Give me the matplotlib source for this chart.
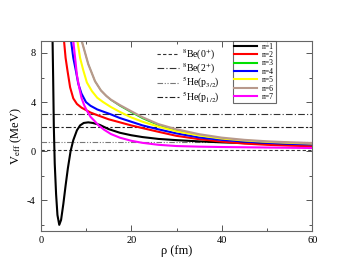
import matplotlib
matplotlib.use('Agg')
import matplotlib.pyplot as plt
from matplotlib.lines import Line2D
from matplotlib.ticker import MultipleLocator

plt.rcParams['font.family'] = ['Liberation Serif', 'DejaVu Serif']
plt.rcParams['mathtext.fontset'] = 'stix'
plt.rcParams['axes.unicode_minus'] = False

# Effective potentials (rho in fm, V in MeV)
rho_n1 = [2.6, 2.75, 2.9, 3.1, 3.4, 3.7, 4.1, 4.5, 5.0, 5.5, 6.0, 6.6, 7.2, 8.0, 8.7,
          9.5, 10.5, 11.5, 13, 15, 17.5, 20, 22.5, 26, 30, 35, 40, 45, 50, 55, 60]
v_n1 = [9.5, 6.0, 2.0, -1.0, -3.5, -5.2, -6.0, -5.6, -4.3, -2.8, -1.4, 0.0, 0.9, 1.7, 2.1,
        2.3, 2.35, 2.3, 2.15, 1.8, 1.5, 1.3, 1.15, 1.0, 0.9, 0.8, 0.72, 0.66, 0.62, 0.59, 0.56]

rho_n2 = [5.0, 5.15, 5.5, 5.9, 6.5, 7.2, 8.0, 9.0, 10, 11, 12.4, 15, 17.5, 20, 22.5,
          26, 30, 35, 40, 45, 50, 55, 60]
v_n2 = [9.5, 9.0, 7.6, 6.6, 5.2, 4.3, 3.85, 3.55, 3.35, 3.15, 2.95, 2.6, 2.35, 2.1, 1.88,
        1.58, 1.25, 0.98, 0.78, 0.62, 0.52, 0.45, 0.4]

rho_n3 = [8.9, 9.05, 10.5, 12, 13.3, 14.5, 15.5, 17.5, 20, 22.5, 26, 30, 35, 40, 45, 50,
          55, 60]
v_n3 = [9.5, 9.0, 7.1, 5.7, 4.95, 4.5, 4.17, 3.68, 3.16, 2.66, 2.11, 1.7, 1.31, 1.05, 0.88,
        0.77, 0.7, 0.64]

rho_n4 = [6.5, 6.7, 7.2, 7.8, 8.3, 9.0, 10, 11, 12.5, 14, 15.5, 17.5, 20, 22.5, 26, 30,
          35, 40, 45, 50, 55, 60]
v_n4 = [9.5, 9.0, 7.6, 6.5, 5.5, 4.7, 4.0, 3.7, 3.4, 3.2, 3.0, 2.7, 2.4, 2.1, 1.78, 1.45,
        1.12, 0.92, 0.78, 0.68, 0.6, 0.55]

rho_n5 = [7.9, 8.1, 8.7, 9.4, 10.2, 11.3, 12.5, 13.8, 15.5, 17.5, 20, 22.5, 26, 30, 35,
          40, 45, 50, 55, 60]
v_n5 = [9.5, 9.0, 7.6, 6.6, 5.6, 4.9, 4.35, 4.0, 3.6, 3.2, 2.75, 2.4, 2.0, 1.62, 1.28,
        1.03, 0.87, 0.76, 0.68, 0.62]

rho_n6 = [8.9, 9.05, 10.5, 12, 13.3, 14.5, 15.5, 17.5, 20, 22.5, 26, 30, 35, 40, 45, 50,
          55, 60]
v_n6 = [9.5, 9.0, 7.1, 5.7, 4.95, 4.5, 4.2, 3.75, 3.25, 2.76, 2.2, 1.78, 1.38, 1.1, 0.92,
        0.8, 0.72, 0.66]

rho_n7 = [7.0, 7.2, 7.6, 8.0, 8.5, 9.0, 9.6, 10.2, 11, 11.8, 12.8, 14, 15.5, 17.5, 20,
          22.5, 26, 30, 35, 40, 45, 50, 55, 60]
v_n7 = [9.5, 9.0, 7.6, 6.2, 5.2, 4.35, 3.75, 3.3, 2.8, 2.5, 2.1, 1.75, 1.4, 1.1, 0.85,
        0.68, 0.52, 0.42, 0.37, 0.34, 0.32, 0.3, 0.28, 0.26]

curve_rho = [rho_n1, rho_n2, rho_n3, rho_n4, rho_n5, rho_n6, rho_n7]
curve_v = [v_n1, v_n2, v_n3, v_n4, v_n5, v_n6, v_n7]
curve_labels = ['n=1', 'n=2', 'n=3', 'n=4', 'n=5', 'n=6', 'n=7']
curve_colors = ['black', '#ff0000', '#00e000', '#0000ff', '#ffff00', '#b8998c', '#ff00ff']
curve_widths = [1.5, 1.5, 0.9, 1.5, 1.5, 1.6, 1.5]

# Thresholds (MeV)
thr_values = [0.09, 3.03, 0.78, 1.97]
thr_labels = [r'$^{8}$Be(0$^{+}$)', r'$^{8}$Be(2$^{+}$)',
              r'$^{5}$He(p$_{3/2}$)', r'$^{5}$He(p$_{1/2}$)']

thr_styles = [(0, (3, 2)), (0, (6, 2, 1, 2)), (0, (5, 1.5, 1, 1.5, 1, 1.5)), (0, (5, 2, 2, 2))]
thr_colors = ['#333333', '#333333', '#777777', '#222222']

fig = plt.figure(figsize=(3.52, 2.72), dpi=100)
ax = fig.add_axes([40.7 / 352, 1 - 231 / 272, (312.3 - 40.7) / 352, (231 - 40.7) / 272])

thr_handles = []
for val, ls, col, lab in zip(thr_values, thr_styles, thr_colors, thr_labels):
    ax.axhline(val, color=col, linestyle=ls, linewidth=0.8)
    thr_handles.append(Line2D([], [], color=col, linestyle=ls, linewidth=0.8, label=lab))

curve_handles = []
for r, v, col, lw, lab in zip(curve_rho, curve_v, curve_colors, curve_widths, curve_labels):
    ax.plot(r, v, color=col, linewidth=lw)
    curve_handles.append(Line2D([], [], color=col, linewidth=1.5, label=lab))

ax.set_xlim(0, 60)
ax.set_ylim(-6.5, 9)
ax.xaxis.set_major_locator(MultipleLocator(20))
ax.xaxis.set_minor_locator(MultipleLocator(10))
ax.yaxis.set_major_locator(MultipleLocator(4))
ax.yaxis.set_minor_locator(MultipleLocator(2))
ax.tick_params(which='both', direction='in', top=True, right=True, colors='#555555',
               labelcolor='black', labelsize=7.5, width=0.7)
ax.tick_params(which='major', length=4)
ax.tick_params(which='minor', length=2)
for sp in ax.spines.values():
    sp.set_color('#666666')
    sp.set_linewidth(0.8)

ax.set_xlabel('ρ (fm)', fontsize=9, labelpad=0)
ax.set_ylabel(r'V$_{\rm eff}$ (MeV)', fontsize=9, labelpad=2)

leg1 = ax.legend(handles=thr_handles, loc='upper left', bbox_to_anchor=(0.43, 0.965),
                 frameon=False, fontsize=7, handlelength=2.2, handletextpad=0.3,
                 labelspacing=-0.05, borderaxespad=0, borderpad=0)
ax.add_artist(leg1)

leg2 = ax.legend(handles=curve_handles, loc='upper right', bbox_to_anchor=(0.866, 1.0),
                 frameon=True, fancybox=False, fontsize=5.5, handlelength=3.0,
                 handletextpad=0.6, labelspacing=0.05, borderaxespad=0, borderpad=0.25)
leg2.get_frame().set_edgecolor('#444444')
leg2.get_frame().set_linewidth(0.8)

fig.savefig('out.png', dpi=100)
